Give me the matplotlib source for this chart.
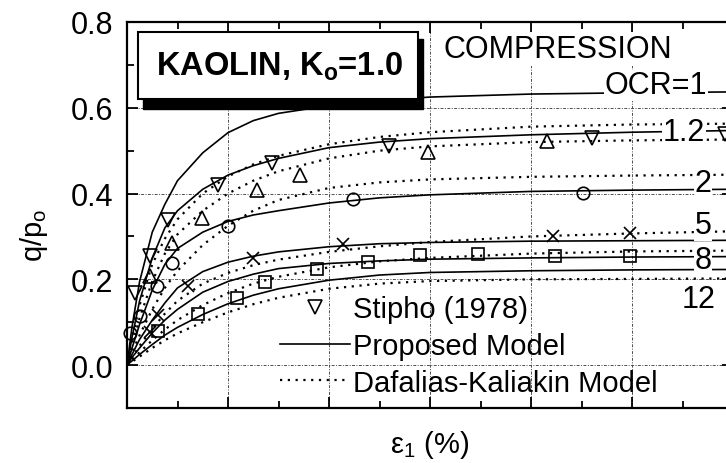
import matplotlib
matplotlib.use("Agg")
import matplotlib.pyplot as plt
from matplotlib.patches import Rectangle
from matplotlib.lines import Line2D
from matplotlib.ticker import MultipleLocator

plt.rcParams["font.family"] = ["Liberation Sans", "DejaVu Sans"]
plt.rcParams["mathtext.fontset"] = "custom"
plt.rcParams["mathtext.rm"] = "Liberation Sans"
plt.rcParams["mathtext.bf"] = "Liberation Sans:bold"
plt.rcParams["mathtext.it"] = "Liberation Sans:italic"

# axial strain (%) at which the model curves are read
eps = [0, 0.1, 0.25, 0.5, 0.75, 1.0, 1.5, 2.0, 2.5, 3.0, 4.0, 5.0, 6.0, 8.0, 10.0, 12.0]

# proposed model, q/po
prop_ocr1 = [0, 0.09, 0.195, 0.31, 0.375, 0.43, 0.495, 0.542, 0.57, 0.587, 0.605, 0.617, 0.625, 0.632, 0.635, 0.637]
prop_ocr1_2 = [0, 0.065, 0.15, 0.25, 0.32, 0.36, 0.41, 0.443, 0.465, 0.482, 0.507, 0.52, 0.528, 0.537, 0.543, 0.547]
prop_ocr2 = [0, 0.04, 0.095, 0.175, 0.235, 0.272, 0.31, 0.335, 0.35, 0.36, 0.378, 0.39, 0.397, 0.405, 0.408, 0.41]
prop_ocr5 = [0, 0.025, 0.06, 0.105, 0.145, 0.18, 0.218, 0.24, 0.254, 0.264, 0.276, 0.283, 0.286, 0.289, 0.29, 0.291]
prop_ocr8 = [0, 0.018, 0.04, 0.075, 0.105, 0.13, 0.17, 0.195, 0.212, 0.225, 0.237, 0.243, 0.247, 0.25, 0.252, 0.253]
prop_ocr12 = [0, 0.01, 0.025, 0.048, 0.07, 0.088, 0.118, 0.143, 0.163, 0.178, 0.198, 0.21, 0.216, 0.22, 0.222, 0.223]

# Dafalias-Kaliakin model, q/po
dk_ocr1 = [0, 0.06, 0.14, 0.235, 0.295, 0.34, 0.4, 0.44, 0.468, 0.488, 0.515, 0.532, 0.543, 0.556, 0.561, 0.563]
dk_ocr1_2 = [0, 0.045, 0.11, 0.195, 0.26, 0.305, 0.36, 0.4, 0.43, 0.452, 0.482, 0.5, 0.51, 0.52, 0.524, 0.526]
dk_ocr2 = [0, 0.03, 0.07, 0.13, 0.18, 0.22, 0.28, 0.325, 0.36, 0.385, 0.413, 0.426, 0.433, 0.439, 0.442, 0.444]
dk_ocr5 = [0, 0.018, 0.045, 0.085, 0.12, 0.15, 0.19, 0.215, 0.233, 0.246, 0.264, 0.277, 0.287, 0.3, 0.307, 0.312]
dk_ocr8 = [0, 0.013, 0.03, 0.058, 0.083, 0.105, 0.14, 0.168, 0.19, 0.206, 0.228, 0.242, 0.25, 0.26, 0.265, 0.267]
dk_ocr12 = [0, 0.008, 0.02, 0.04, 0.058, 0.074, 0.1, 0.123, 0.142, 0.157, 0.178, 0.19, 0.196, 0.2, 0.201, 0.202]

# Stipho (1978) test data
tri_down_x = [0.16, 0.46, 0.81, 1.8, 2.87, 5.19, 9.2, 11.85]
tri_down_y = [0.168, 0.254, 0.338, 0.42, 0.471, 0.51, 0.53, 0.54]
tri_up_x = [0.46, 0.89, 1.49, 2.57, 3.43, 5.96, 8.32]
tri_up_y = [0.207, 0.285, 0.343, 0.408, 0.443, 0.497, 0.522]
circ_x = [0.05, 0.26, 0.6, 0.89, 2.0, 4.47, 9.03]
circ_y = [0.075, 0.114, 0.184, 0.238, 0.324, 0.387, 0.401]
cross_x = [0.46, 0.62, 1.2, 2.5, 4.28, 8.44, 9.96]
cross_y = [0.077, 0.117, 0.184, 0.25, 0.282, 0.30, 0.308]
sq_x = [0.62, 1.4, 2.18, 2.73, 3.76, 4.77, 5.8, 6.95, 8.48, 9.96]
sq_y = [0.079, 0.119, 0.156, 0.194, 0.224, 0.241, 0.257, 0.259, 0.254, 0.254]

# OCR labels: text, x, baseline
ocr_labels = ["OCR=1", "1.2", "2", "5", "8", "12"]
ocr_label_x = [10.48, 11.03, 11.41, 11.41, 11.41, 11.31]
ocr_label_y = [0.634, 0.525, 0.406, 0.308, 0.226, 0.135]

fig = plt.figure(figsize=(7.26, 4.64), dpi=100)
ax = fig.add_axes([127 / 726, 1 - 409 / 464, 606 / 726, 386 / 464])

dotted = (0, (1, 2.5))
for prop in [prop_ocr1, prop_ocr1_2, prop_ocr2, prop_ocr5, prop_ocr8, prop_ocr12]:
    ax.plot(eps, prop, color="k", lw=1.2, zorder=3)
for dk in [dk_ocr1, dk_ocr1_2, dk_ocr2, dk_ocr5, dk_ocr8, dk_ocr12]:
    ax.plot(eps, dk, color="k", lw=1.6, ls=dotted, zorder=3)

mk = dict(ls="none", mfc="none", mec="k", mew=1.2, zorder=4, clip_on=False)
ax.plot(tri_down_x, tri_down_y, marker="v", ms=10, **mk)
ax.plot(tri_up_x, tri_up_y, marker="^", ms=10, **mk)
ax.plot(circ_x, circ_y, marker="o", ms=9, **mk)
ax.plot(cross_x, cross_y, marker="x", ms=9, **mk)
ax.plot(sq_x, sq_y, marker="s", ms=8, **mk)

for lab, x, y in zip(ocr_labels, ocr_label_x, ocr_label_y):
    ax.text(x, y, lab, ha="center", va="baseline", fontsize=22, zorder=5,
            bbox=dict(fc="white", ec="none", pad=0.5))

ax.set_xlim(0, 12)
ax.set_ylim(-0.1, 0.8)
ax.xaxis.set_major_locator(MultipleLocator(2))
ax.xaxis.set_minor_locator(MultipleLocator(1))
ax.yaxis.set_major_locator(MultipleLocator(0.2))
ax.yaxis.set_minor_locator(MultipleLocator(0.1))
ax.tick_params(which="both", direction="in", top=True, right=True, width=1.3)
ax.tick_params(which="major", length=8)
ax.tick_params(which="minor", length=5)
ax.tick_params(axis="x", labelbottom=False)
ax.tick_params(axis="y", labelsize=22, pad=10)
ax.set_yticks([0.0, 0.2, 0.4, 0.6, 0.8])
ax.set_yticklabels(["0.0", "0.2", "0.4", "0.6", "0.8"])
for s in ax.spines.values():
    s.set_linewidth(1.6)
ax.grid(True, which="major", color="0.3", lw=0.7, ls=(0, (3, 1.5, 1, 1.5)))

ax.set_xlabel("ε$_\\mathregular{1}$ (%)", fontsize=21, labelpad=11)
ax.set_ylabel("q/p$_\\mathregular{o}$", fontsize=21)
ax.yaxis.set_label_coords(-0.127, 0.45)

handles = [
    Line2D([], [], ls="none", marker="v", ms=10, mfc="none", mec="k", mew=1.2),
    Line2D([], [], color="k", lw=1.2),
    Line2D([], [], color="k", lw=1.6, ls=dotted),
]
ax.legend(handles, ["Stipho (1978)", "Proposed Model", "Dafalias-Kaliakin Model"],
          loc="upper left", bbox_to_anchor=(280 / 726, 1 - 296 / 464),
          bbox_transform=fig.transFigure, frameon=False, fontsize=21,
          handlelength=2.4, handletextpad=0.1, labelspacing=0.3,
          borderpad=0, borderaxespad=0)

# title box with drop shadow
fig.add_artist(Rectangle((143 / 726, 1 - 110 / 464), 280 / 726, 70 / 464,
                         transform=fig.transFigure, fc="k", ec="k"))
fig.add_artist(Rectangle((138 / 726, 1 - 100 / 464), 280 / 726, 67 / 464,
                         transform=fig.transFigure, fc="white", ec="k", lw=1.5))
fig.text(279 / 726, 1 - 67 / 464, "KAOLIN, K$_\\mathbf{o}$=1.0", ha="center", va="center",
         fontsize=23.5, fontweight="bold")
fig.text(558 / 726, 1 - 50 / 464, "COMPRESSION", ha="center", va="center", fontsize=22,
         bbox=dict(fc="white", ec="none", pad=1))

fig.savefig("out.png", dpi=100)
